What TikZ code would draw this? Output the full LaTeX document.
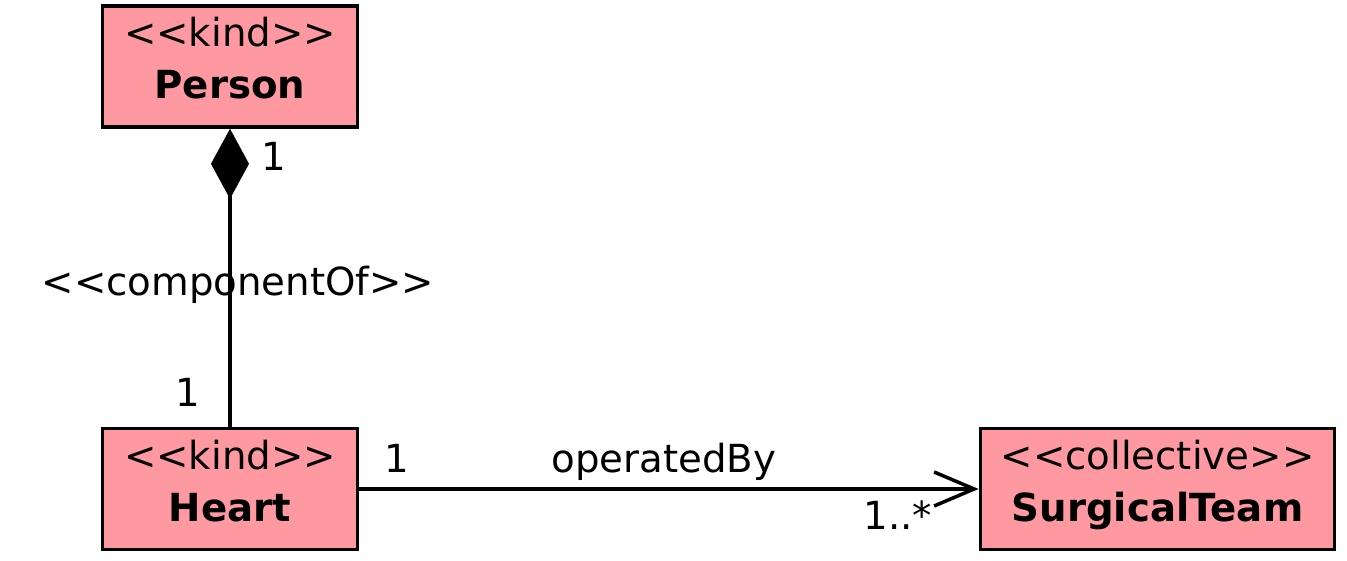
\documentclass[tikz,border=0pt]{standalone}
\usepackage{fontspec}
\setmainfont{DejaVu Sans}
\usetikzlibrary{arrows.meta}
\definecolor{classpink}{RGB}{255,153,161}
\newcommand{\umlclass}[2]{<{}<#1>{}>\\\textbf{#2}\rule[-4.7pt]{0pt}{0pt}}

\begin{document}
\begin{tikzpicture}[x=0.01cm,y=-0.01cm,line width=1pt,
 every node/.style={font=\fontsize{11}{14.8}\selectfont},
 class/.style={draw,fill=classpink,align=center,minimum height=1.21cm,inner sep=0pt},
 mult/.style={anchor=base,inner sep=0pt}]
\useasboundingbox (0,0) rectangle (1347,561);
\node[class,minimum width=2.55cm] (person) at (230,66.5) {\umlclass{kind}{Person}};
\node[class,minimum width=2.55cm] (heart) at (230,489) {\umlclass{kind}{Heart}};
\node[class,minimum width=3.54cm] (team) at (1157.5,489) {\umlclass{collective}{SurgicalTeam}};
\draw[{Diamond[length=0.7cm,width=0.38cm]}-] (person) -- (heart);
\draw[-{Straight Barb[length=0.4cm,width=0.34cm]}] (heart) -- (team);
\node[mult] (pmult) at (274,171) {1};
\node[mult] (comp) at (238,296) {<{}<componentOf>{}>};
\node[mult] (hmult) at (188,407) {1};
\node[mult] (omult) at (397,473) {1};
\node[mult] (op) at (664,473) {operatedBy};
\node[mult] (tmult) at (898,530) {1..*};
\end{tikzpicture}
\end{document}
